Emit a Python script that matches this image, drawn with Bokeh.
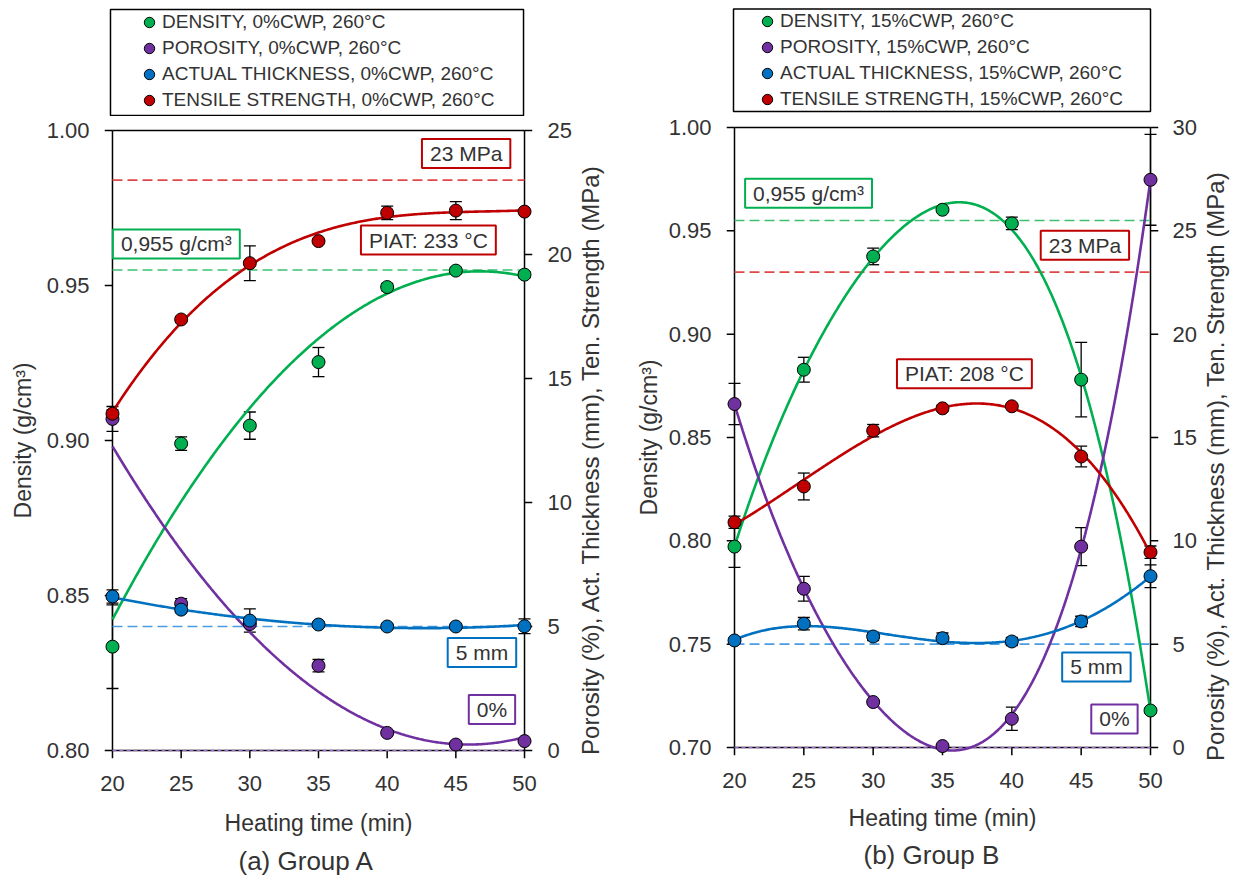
import math
import numpy as np
from bokeh.plotting import figure
from bokeh.models import (Range1d, LinearAxis, FixedTicker, PrintfTickFormatter, Whisker, TeeHead,
                          ColumnDataSource, Label, Legend, LegendItem, Title)
from bokeh.layouts import row, column
from bokeh.core.properties import value
from bokeh.embed import file_html
from bokeh.resources import INLINE

# ---------------- data ----------------
time = [20, 25, 30, 35, 40, 45, 50]

a_density = [0.8335, 0.899, 0.9048, 0.9253, 0.9495, 0.9548, 0.9535]
a_density_err = [0.0135, 0.0022, 0.0044, 0.0047, 0.0012, 0.0010, 0.0010]
a_porosity = [13.37, 5.92, 5.10, 3.42, 0.71, 0.24, 0.38]
a_porosity_err = [0.5, 0.2, 0.0, 0.25, 0.1, 0.1, 0.05]
a_thickness = [6.21, 5.68, 5.24, 5.08, 5.00, 5.00, 5.01]
a_thickness_err = [0.27, 0.12, 0.47, 0.1, 0.1, 0.1, 0.3]
a_tensile = [13.58, 17.38, 19.65, 20.54, 21.68, 21.77, 21.73]
a_tensile_err = [0.15, 0.1, 0.7, 0.1, 0.27, 0.36, 0.05]

b_density = [0.7972, 0.8828, 0.9376, 0.9602, 0.9536, 0.878, 0.7179]
b_density_err = [0.0100, 0.0060, 0.0040, 0.0010, 0.0030, 0.0180, 0.0010]
b_porosity = [16.62, 7.68, 2.20, 0.07, 1.39, 9.72, 27.47]
b_porosity_err = [1.0, 0.6, 0.1, 0.1, 0.56, 0.92, 2.2]
b_thickness = [5.18, 5.99, 5.37, 5.29, 5.13, 6.10, 8.29]
b_thickness_err = [0.1, 0.3, 0.2, 0.25, 0.2, 0.25, 0.55]
b_tensile = [10.90, 12.63, 15.33, 16.41, 16.51, 14.08, 9.45]
b_tensile_err = [0.3, 0.65, 0.3, 0.15, 0.1, 0.5, 0.3]

x_ticks = [20, 25, 30, 35, 40, 45, 50]
a_density_ticks = [0.80, 0.85, 0.90, 0.95, 1.00]
a_right_ticks = [0, 5, 10, 15, 20, 25]
b_density_ticks = [0.70, 0.75, 0.80, 0.85, 0.90, 0.95, 1.00]
b_right_ticks = [0, 5, 10, 15, 20, 25, 30]

density_ref = 0.955
tensile_ref = 23
thickness_ref = 5
porosity_ref = 0

series_names = ["DENSITY", "POROSITY", "ACTUAL THICKNESS", "TENSILE STRENGTH"]
right_label = "Porosity (%), Act. Thickness (mm), Ten. Strength (MPa)"

# ---------------- style ----------------
FONT = "Liberation Sans"
TXT = "#333333"
GREEN, PURPLE, BLUE, RED = "#00b050", "#7030a0", "#0070c0", "#c00000"
COLORS = [GREEN, PURPLE, BLUE, RED]
GREEN_D, PURPLE_D, BLUE_D, RED_D = "#3cc070", "#9a6cc8", "#4a9de0", "#e04848"
PAD = 8  # frame pixels beyond the axis lines, so edge markers are not clipped
PAGE_H = 885


def blank_fig(w, h, xr, yr, bl=0, br=0):
    f = figure(width=w, height=h, x_range=Range1d(*xr), y_range=Range1d(*yr),
               x_axis_location=None, y_axis_location=None, output_backend="svg",
               toolbar_location=None, min_border_left=bl, min_border_right=br,
               min_border_top=0, min_border_bottom=0)
    f.outline_line_color = None
    f.grid.visible = False
    return f


def style_axis(ax, standoff, label_standoff):
    ax.axis_line_color = None
    ax.major_tick_out = 0
    ax.major_tick_in = 0
    ax.minor_tick_out = 0
    ax.minor_tick_in = 0
    ax.major_label_standoff = standoff
    ax.axis_label_standoff = label_standoff
    ax.major_label_text_font = FONT
    ax.major_label_text_font_size = "22px"
    ax.major_label_text_color = TXT
    ax.axis_label_text_font = FONT
    ax.axis_label_text_font_size = "23px"
    ax.axis_label_text_color = TXT
    ax.axis_label_text_font_style = "normal"


def legend_fig(g, cwp):
    W, H = g["w"], g["lh"]
    f = blank_fig(W, H, (0, g["fw"] + 2 * PAD), (0, H), g["bl"], g["br"])
    bl, br, bb, bt = g["box"]
    f.quad(left=[bl], right=[br], bottom=[bb], top=[bt], fill_color="white",
           line_color="black", line_width=1.5)
    items = []
    for name, col in zip(series_names, COLORS):
        r = f.scatter(x=[-1000], y=[-1000], size=13, fill_color=col, line_color="black",
                      line_width=1, visible=False)
        items.append(LegendItem(label=f"{name}, {cwp}CWP, 260°C", renderers=[r]))
    leg = Legend(items=items, location=g["leg"], orientation="vertical",
                 border_line_color=None, background_fill_alpha=0.0,
                 padding=0, spacing=0, margin=0,
                 glyph_height=26, glyph_width=26, label_height=26, label_standoff=0,
                 label_text_font=FONT, label_text_font_size="19px", label_text_color=TXT)
    f.add_layout(leg)
    return f


def right_label_fig(w, cx, cy):
    f = blank_fig(w, PAGE_H, (0, w), (0, PAGE_H))
    f.text(x=[cx], y=[PAGE_H - cy], text=[right_label], angle=math.pi / 2,
           text_align="center", text_baseline="middle", text_font=value(FONT),
           text_font_size=value("24px"), text_color=TXT)
    return f


def build(g, dens, dens_e, por, por_e, thk, thk_e, ts, ts_e, dticks, rticks, sub, labels, degs):
    x0, x1 = time[0], time[-1]
    ylo, yhi = dticks[0], dticks[-1]
    rlo, rhi = rticks[0], rticks[-1]
    padx = PAD * (x1 - x0) / g["fw"]
    pady = PAD * (yhi - ylo) / g["fh"]
    padr = PAD * (rhi - rlo) / g["fh"]
    p = figure(width=g["w"], height=g["h"],
               x_range=Range1d(x0 - padx, x1 + padx),
               y_range=Range1d(ylo - pady, yhi + pady),
               output_backend="svg", toolbar_location=None,
               min_border_left=g["bl"], min_border_right=g["br"],
               min_border_top=g["bt"], min_border_bottom=g["bb"])
    p.outline_line_color = None
    p.grid.visible = False
    p.extra_y_ranges = {"right": Range1d(rlo - padr, rhi + padr)}

    xa = p.xaxis[0]
    xa.ticker = FixedTicker(ticks=x_ticks)
    xa.axis_label = "Heating time (min)"
    style_axis(xa, 17, g["xls"])

    la = p.yaxis[0]
    la.ticker = FixedTicker(ticks=dticks)
    la.formatter = PrintfTickFormatter(format="%.2f")
    la.axis_label = "Density (g/cm³)"
    style_axis(la, 15, g["lls"])

    ra = LinearAxis(y_range_name="right", ticker=FixedTicker(ticks=rticks))
    style_axis(ra, g["rts"], 0)
    p.add_layout(ra, "right")

    # axis lines and outward tick marks, drawn inside the padded frame
    ak = dict(line_color="black", line_width=1.5)
    p.segment(x0=[x0, x1], x1=[x0, x1], y0=[ylo, ylo], y1=[yhi, yhi], **ak)
    p.segment(x0=[x0, x0], x1=[x1, x1], y0=[ylo, yhi], y1=[ylo, yhi], **ak)
    p.segment(x0=[x0] * len(dticks), x1=[x0 - padx] * len(dticks), y0=dticks, y1=dticks, **ak)
    p.segment(x0=[x1] * len(rticks), x1=[x1 + padx] * len(rticks), y0=rticks, y1=rticks,
              y_range_name="right", **ak)
    p.segment(x0=x_ticks, x1=x_ticks, y0=[ylo] * len(x_ticks), y1=[ylo - pady] * len(x_ticks), **ak)

    # reference levels
    p.segment(x0=[x0], x1=[x1], y0=[density_ref], y1=[density_ref],
              line_color=GREEN_D, line_width=1.6, line_dash="10 5")
    p.segment(x0=[x0], x1=[x1], y0=[tensile_ref], y1=[tensile_ref], y_range_name="right",
              line_color=RED_D, line_width=1.6, line_dash="10 5")
    p.segment(x0=[x0], x1=[x1], y0=[thickness_ref], y1=[thickness_ref], y_range_name="right",
              line_color=BLUE_D, line_width=1.6, line_dash="10 5")
    p.segment(x0=[x0], x1=[x1], y0=[porosity_ref], y1=[porosity_ref], y_range_name="right",
              line_color=PURPLE_D, line_width=1.6, line_dash="4 3")

    xf = np.linspace(x0, x1, 300)
    series = [
        (dens, dens_e, GREEN, "default", degs[0]),
        (por, por_e, PURPLE, "right", degs[1]),
        (thk, thk_e, BLUE, "right", degs[2]),
        (ts, ts_e, RED, "right", degs[3]),
    ]
    for vals, errs, col, rng, deg in series:
        coef = np.polyfit(time, vals, deg)
        p.line(xf, np.polyval(coef, xf), line_color=col, line_width=2.6, y_range_name=rng)
        xs = [t for t, e in zip(time, errs) if e > 0]
        lo = [v - e for v, e in zip(vals, errs) if e > 0]
        hi = [v + e for v, e in zip(vals, errs) if e > 0]
        src = ColumnDataSource(dict(x=xs, lower=lo, upper=hi))
        w = Whisker(source=src, base="x", lower="lower", upper="upper", dimension="height",
                    y_range_name=rng, line_color="black", line_width=1.3, level="underlay",
                    upper_head=TeeHead(size=12, line_color="black", line_width=1.3),
                    lower_head=TeeHead(size=12, line_color="black", line_width=1.3))
        p.add_layout(w)
    for vals, errs, col, rng, deg in series:
        p.scatter(time, vals, size=13, fill_color=col, line_color="black", line_width=1,
                  y_range_name=rng)

    for txt, x, y, rng, col in labels:
        p.add_layout(Label(x=x, y=y, y_range_name=rng, text=txt, text_align="center",
                           text_baseline="middle", text_font=FONT, text_font_size="21px",
                           text_color=TXT, border_line_color=col, border_line_width=2,
                           background_fill_color="white", background_fill_alpha=1.0,
                           padding=(8, 3)))

    p.add_layout(Title(text=sub, align="left", text_font=FONT, text_font_size="26px",
                       text_font_style="normal", text_color=TXT, offset=g["toff"],
                       standoff=g["tst"]), "below")
    return p


geo_a = dict(w=574, h=769, fw=413, fh=620, bl=104, br=41, bt=6, bb=127,
             toff=134, tst=10, lls=8, rts=15, xls=16,
             lh=116, box=(6, 420, 1, 107), leg=(32, 3))
geo_b = dict(w=581, h=772, fw=416, fh=620, bl=108, br=41, bt=6, bb=130,
             toff=137, tst=8, lls=4, rts=14, xls=14,
             lh=113, box=(7, 424, 2, 104.5), leg=(28, 1))

labels_a = [
    ("23 MPa", 45.75, 24.07, "right", RED),
    ("PIAT: 233 °C", 43.0, 20.58, "right", RED),
    ("0,955 g/cm³", 24.65, 0.9634, "default", GREEN),
    ("5 mm", 46.9, 3.95, "right", BLUE),
    ("0%", 47.63, 1.65, "right", PURPLE),
]
labels_b = [
    ("0,955 g/cm³", 25.34, 0.9682, "default", GREEN),
    ("23 MPa", 45.27, 24.30, "right", RED),
    ("PIAT: 208 °C", 36.58, 18.09, "right", RED),
    ("5 mm", 46.1, 3.9, "right", BLUE),
    ("0%", 47.4, 1.38, "right", PURPLE),
]

pa = build(geo_a, a_density, a_density_err, a_porosity, a_porosity_err, a_thickness, a_thickness_err,
           a_tensile, a_tensile_err, a_density_ticks, a_right_ticks, "(a) Group A", labels_a,
           (2, 2, 2, 3))
pb = build(geo_b, b_density, b_density_err, b_porosity, b_porosity_err, b_thickness, b_thickness_err,
           b_tensile, b_tensile_err, b_density_ticks, b_right_ticks, "(b) Group B", labels_b,
           (4, 4, 4, 3))

layout = row(column(legend_fig(geo_a, "0%"), pa), right_label_fig(44, 16, 459),
             column(legend_fig(geo_b, "15%"), pb), right_label_fig(36, 16, 465))
open("out.html", "w").write(file_html(layout, INLINE))
